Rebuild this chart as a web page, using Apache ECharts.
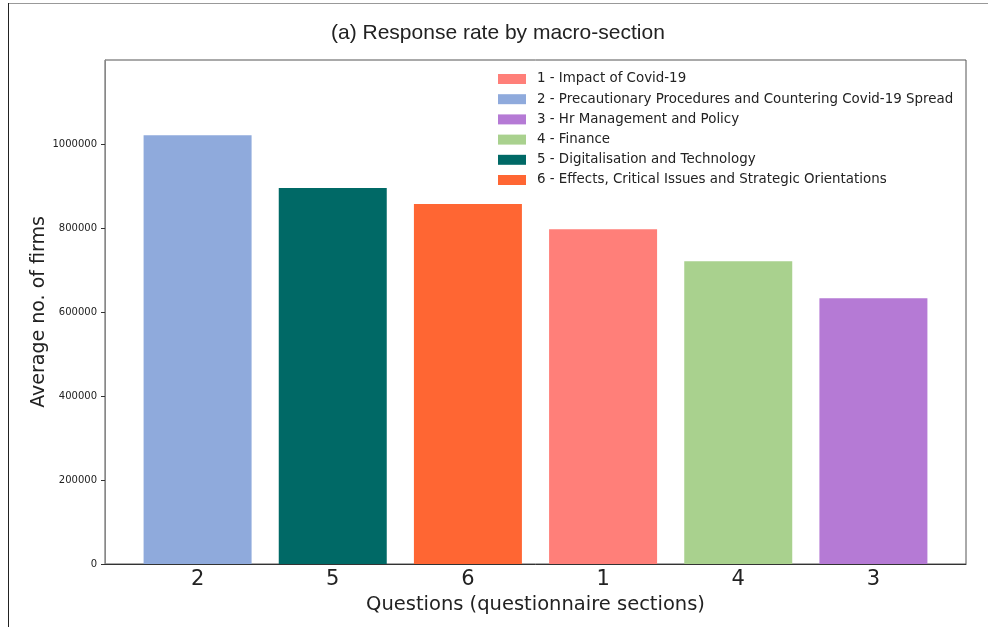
<!DOCTYPE html>
<html>
<head>
<meta charset="utf-8">
<script src="https://cdn.jsdelivr.net/npm/echarts@6/dist/echarts.min.js"></script>
<style>html,body{margin:0;padding:0;background:#fff;}#c{width:988px;height:627px;}</style>
</head>
<body>
<div id="c"></div>
<script>
// Bar order on the x axis (section numbers)
const categories = ['2', '5', '6', '1', '4', '3'];
// Legend / section names in order 1..6
const sectionNames = [
  '1 - Impact of Covid-19',
  '2 - Precautionary Procedures and Countering Covid-19 Spread',
  '3 - Hr Management and Policy',
  '4 - Finance',
  '5 - Digitalisation and Technology',
  '6 - Effects, Critical Issues and Strategic Orientations'
];
const sectionIds = ['1', '2', '3', '4', '5', '6'];
// Average number of firms for sections 1..6
const sectionValues = [797000, 1021000, 633000, 721000, 895000, 857000];
const sectionColors = ['#FF7F79', '#8FAADC', '#B57AD5', '#A9D18E', '#006966', '#FF6633'];
const yTicks = [0, 200000, 400000, 600000, 800000, 1000000];

const chart = echarts.init(document.getElementById('c'), null, {renderer: 'canvas'});

const series = sectionIds.map((id, i) => ({
  name: sectionNames[i],
  type: 'bar',
  stack: 'all',
  barWidth: 108,
  itemStyle: {color: sectionColors[i]},
  data: [[categories.indexOf(id), sectionValues[i]]]
}));

chart.setOption({
  backgroundColor: '#fff',
  animation: false,
  title: {
    text: '(a) Response rate by macro-section',
    left: 326, top: 18,
    textStyle: {fontFamily: 'Liberation Sans', fontSize: 21, fontWeight: 'normal', color: '#222'}
  },
  legend: {
    orient: 'vertical',
    left: 498, top: 72, padding: 0,
    itemWidth: 28, itemHeight: 10, itemGap: 6.2,
    icon: 'rect',
    data: sectionNames,
    textStyle: {fontFamily: 'DejaVu Sans', fontSize: 13.4, color: '#222', lineHeight: 14, padding: [0, 0, 0, 6]}
  },
  graphic: [
    {type: 'line', shape: {x1: 8, y1: 3.5, x2: 988, y2: 3.5}, style: {stroke: '#999', lineWidth: 1}},
    {type: 'line', shape: {x1: 8.5, y1: 3, x2: 8.5, y2: 627}, style: {stroke: '#222', lineWidth: 1}}
  ],
  grid: {left: 105, top: 60, right: 22, bottom: 63, show: true, borderColor: '#555', borderWidth: 1},
  xAxis: {
    type: 'value',
    min: -0.685, max: 5.685,
    name: 'Questions (questionnaire sections)',
    nameLocation: 'middle', nameGap: 31,
    nameMoveOverlap: false,
    nameTextStyle: {fontFamily: 'DejaVu Sans', fontSize: 19.5, color: '#222'},
    axisLine: {show: true, onZero: false, lineStyle: {color: '#333'}},
    axisTick: {show: false},
    splitLine: {show: false},
    axisLabel: {
      customValues: [0, 1, 2, 3, 4, 5],
      formatter: v => categories[Math.round(v)],
      fontFamily: 'DejaVu Sans', fontSize: 21, color: '#222', margin: 5
    }
  },
  yAxis: {
    type: 'value',
    min: 0, max: 1200000,
    name: 'Average no. of firms',
    nameLocation: 'middle', nameGap: 56, nameRotate: 90,
    nameMoveOverlap: false,
    nameTextStyle: {fontFamily: 'DejaVu Sans', fontSize: 19, color: '#222'},
    axisLine: {show: true, onZero: false, lineStyle: {color: '#888'}},
    axisTick: {show: true, length: 4, lineStyle: {color: '#333'}, customValues: yTicks},
    splitLine: {show: false},
    axisLabel: {
      customValues: yTicks,
      formatter: v => String(v),
      fontFamily: 'DejaVu Sans', fontSize: 10, color: '#222', margin: 8
    }
  },
  series: series
});
</script>
</body>
</html>
